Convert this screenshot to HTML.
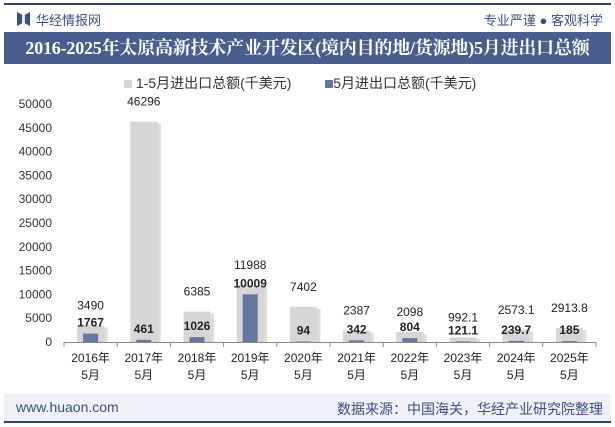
<!DOCTYPE html>
<html><head><meta charset="utf-8">
<style>
body{margin:0;width:615px;height:427px;background:#fff;font-family:"Liberation Sans","Noto Sans CJK SC",sans-serif;overflow:hidden;position:relative}
.abs{position:absolute}
</style></head><body>
<div class="abs" style="left:4px;top:3px;width:607px;height:2px;background:#2f3f73"></div>
<div class="abs" style="left:17px;top:12px;width:13px;height:14px;background:#3a4f86;clip-path:polygon(0 0,40% 20%,40% 80%,0 100%,0 0,100% 0,100% 100%,60% 80%,60% 20%,100% 0)"></div>
<div class="abs" style="left:36px;top:10px;font-size:13px;color:#3a4f86">华经情报网</div>
<div class="abs" style="right:12px;top:10px;font-size:13px;color:#3a4f86">专业严谨 ● 客观科学</div>
<div class="abs" style="left:4px;top:32px;width:607px;height:32px;background:#4a5d8f;color:#fff;font-weight:bold;font-size:18px;line-height:32px;text-align:center;white-space:nowrap;letter-spacing:-0.2px;font-family:'Liberation Serif','Noto Serif CJK SC',serif">2016-2025年太原高新技术产业开发区(境内目的地/货源地)5月进出口总额</div>
<div class="abs" style="left:124px;top:73px;font-size:14px;color:#333;white-space:nowrap">
<span><span style="display:inline-block;width:8px;height:8px;background:#d4d4d4"></span> 1-5月进出口总额(千美元)</span>
<span style="display:inline-block;width:26px"></span>
<span><span style="display:inline-block;width:8px;height:8px;background:#64789f"></span>5月进出口总额(千美元)</span>
</div>
<svg class="abs" style="left:0;top:0" width="615" height="427" id="chart"></svg>
<div class="abs" style="left:4px;top:394px;width:607px;height:27px;background:#eef1f7"></div>
<div class="abs" style="left:16px;top:399px;font-size:14px;color:#3a4f86">www.huaon.com</div>
<div class="abs" style="right:12px;top:399px;font-size:14px;color:#3a4f86">数据来源：中国海关，华经产业研究院整理</div>
<div class="abs" style="left:4px;top:421px;width:607px;height:2px;background:#2f3f73"></div>
<script>
const categories=["2016年","2017年","2018年","2019年","2020年","2021年","2022年","2023年","2024年","2025年"];
const ytdValues=[3490,46296,6385,11988,7402,2387,2098,992.1,2573.1,2913.8];
const mayValues=[1767,461,1026,10009,94,342,804,121.1,239.7,185];
const yTicks=[0,5000,10000,15000,20000,25000,30000,35000,40000,45000,50000];
const NS="http://www.w3.org/2000/svg";
const svg=document.getElementById('chart');
const x0=64,x1=596,yBase=342,yTop=104,yMax=50000;
const band=(x1-x0)/categories.length;
const y=v=>yBase-(v/yMax)*(yBase-yTop);
const xc=i=>x0+band*(i+0.5);
function mk(t,a){const e=document.createElementNS(NS,t);for(const k in a)e.setAttribute(k,a[k]);svg.appendChild(e);return e;}
yTicks.forEach(v=>{
  const t=mk('text',{x:52,y:y(v)+4,'text-anchor':'end','font-size':12,fill:'#333'});
  t.textContent=v;
  
  
});
const ax=mk('line',{x1:x0,x2:x1,y1:yBase+0.5,y2:yBase+0.5,stroke:'#888'});


for(let i=0;i<=categories.length;i++){
  const tk=mk('line',{x1:x0+band*i,x2:x0+band*i,y1:yBase,y2:yBase+5,stroke:'#888'});
  
  
}
categories.forEach((c,i)=>{
  const cx=xc(i);
  const gy=y(ytdValues[i]);
  mk('rect',{x:cx-13+3,y:gy+2,width:27,height:yBase-gy-2,fill:'#bbb',opacity:0.5});
  const g=mk('rect',{x:cx-13.5,y:gy,width:27,height:yBase-gy,fill:'#d6d6d6'});
  
  
  const by=y(mayValues[i]);
  const b=mk('rect',{x:cx-7.5,y:by,width:15,height:yBase-by,fill:'#64789f'});
  
  
  const gl=mk('text',{x:cx,y:gy-16,'text-anchor':'middle','font-size':12,fill:'#222'});
  gl.textContent=ytdValues[i];
  
  
  const bl=mk('text',{x:cx,y:by-7,'text-anchor':'middle','font-size':12,'font-weight':'bold',fill:'#222'});
  bl.textContent=mayValues[i];
  
  
  const l1=mk('text',{x:cx,y:362,'text-anchor':'middle','font-size':12,fill:'#222'});
  l1.textContent=c;
  
  
  const l2=mk('text',{x:cx,y:379,'text-anchor':'middle','font-size':12,fill:'#222'});
  l2.textContent='5月';
  
  
});
</script>
</body></html>
